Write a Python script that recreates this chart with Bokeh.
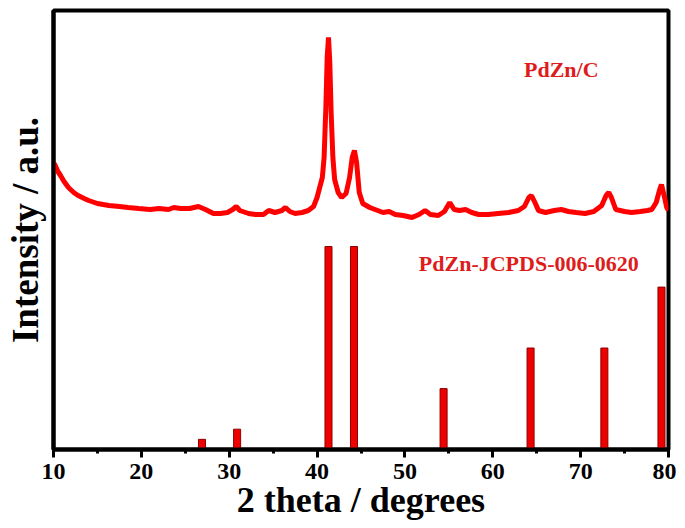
from bokeh.plotting import figure
from bokeh.models import Range1d, SingleIntervalTicker, FixedTicker, Label
from bokeh.embed import file_html
from bokeh.resources import INLINE

# Measured XRD pattern (PdZn/C), a.u.
two_theta = [10.0, 10.2, 10.5, 10.8, 11.2, 11.7, 12.3, 12.8, 13.5, 14.0, 15.0, 16.3, 17.5, 18.5,
             19.7, 21.0, 22.0, 23.1, 23.7, 24.5, 25.5, 26.5, 27.3, 28.2, 29.0, 29.8, 30.4, 30.8,
             31.2, 32.2, 33.0, 33.9, 34.5, 35.2, 36.0, 36.4, 36.9, 37.5, 38.3, 39.0, 39.6, 40.0,
             40.3, 40.6, 40.8, 41.0, 41.15, 41.3, 41.45, 41.6, 41.8, 42.0, 42.4, 42.8, 43.3, 43.7,
             44.0, 44.25, 44.5, 44.8, 45.2, 46.0, 46.6, 47.5, 48.2, 48.9, 49.8, 50.8, 51.6, 52.3,
             52.9, 53.8, 54.5, 55.1, 55.6, 56.2, 56.9, 57.6, 58.4, 59.5, 60.6, 61.8, 62.9, 63.6,
             64.1, 64.4, 64.8, 65.2, 66.0, 67.0, 67.8, 68.6, 69.5, 70.5, 71.5, 72.4, 72.9, 73.2,
             73.5, 74.0, 75.0, 75.8, 76.8, 77.6, 78.1, 78.6, 79.0, 79.2, 79.5, 79.8, 80.0]
intensity = [287, 284, 278, 274, 268, 262, 257, 254, 251, 249, 246, 244, 243, 242,
             241, 240, 241, 240, 242, 241, 241, 243, 240, 236, 236, 237, 240, 243,
             239, 236, 235, 235, 239, 237, 239, 242, 238, 236, 237, 239, 243, 252,
             262, 272, 292, 342, 392, 412, 387, 337, 292, 270, 257, 252, 256, 272,
             292, 299, 287, 257, 246, 242, 240, 237, 238, 235, 234, 232, 235, 239,
             235, 234, 238, 247, 240, 239, 240, 237, 235, 235, 236, 237, 239, 243,
             252, 254, 247, 239, 237, 239, 240, 238, 237, 236, 238, 244, 254, 257,
             252, 240, 238, 237, 238, 239, 240, 247, 260, 265, 254, 242, 239]

# Reference pattern PdZn JCPDS 006-0620 (relative intensity, %)
ref_pos = [26.9, 30.9, 41.3, 44.2, 54.4, 64.3, 72.7, 79.2]
ref_rel = [5, 10, 100, 100, 30, 50, 50, 80]

x_ticks = [10, 20, 30, 40, 50, 60, 70, 80]

serif = "Liberation Serif"
bar_scale = 2.03

p = figure(frame_width=615, frame_height=439, output_backend="svg", toolbar_location=None,
           x_range=Range1d(10, 80), y_range=Range1d(0, 439),
           min_border_left=53, min_border_right=8, min_border_top=10, min_border_bottom=60)

p.grid.visible = False
p.background_fill_color = "white"
p.outline_line_color = "black"
p.outline_line_width = 4

p.vbar(x=ref_pos, top=[r * bar_scale for r in ref_rel], width=0.8, bottom=0,
       fill_color="#ee0000", line_color="#8b0000", line_width=1)
p.line(two_theta, intensity, line_color="#ff0000", line_width=5)

xa = p.xaxis[0]
xa.ticker = SingleIntervalTicker(interval=10, num_minor_ticks=2)
xa.axis_line_width = 4
xa.major_tick_in = 0
xa.major_tick_out = 8
xa.minor_tick_in = 0
xa.minor_tick_out = 4
xa.major_tick_line_width = 3
xa.minor_tick_line_width = 3
xa.major_label_text_font = serif
xa.major_label_text_font_style = "bold"
xa.major_label_text_font_size = "24px"
xa.major_label_text_color = "black"
xa.major_label_standoff = 6
xa.axis_label = "2 theta / degrees"
xa.axis_label_text_font = serif
xa.axis_label_text_font_style = "bold"
xa.axis_label_text_font_size = "36px"
xa.axis_label_text_color = "black"
xa.axis_label_standoff = -2

ya = p.yaxis[0]
ya.ticker = FixedTicker(ticks=[])
ya.axis_line_width = 4
ya.major_tick_line_color = None
ya.minor_tick_line_color = None
ya.major_label_text_font_size = "0px"
ya.axis_label = "Intensity / a.u."
ya.axis_label_text_font = serif
ya.axis_label_text_font_style = "bold"
ya.axis_label_text_font_size = "37px"
ya.axis_label_text_color = "black"
ya.axis_label_standoff = 8

p.add_layout(Label(x=67.8, y=380, text="PdZn/C", text_align="center", text_baseline="middle",
                   text_font=serif, text_font_style="bold", text_font_size="22px",
                   text_color="#dd1c1c"))
p.add_layout(Label(x=64.1, y=186, text="PdZn-JCPDS-006-0620", text_align="center",
                   text_baseline="middle", text_font=serif, text_font_style="bold",
                   text_font_size="22px", text_color="#dd1c1c"))

open("out.html", "w").write(file_html(p, INLINE))
